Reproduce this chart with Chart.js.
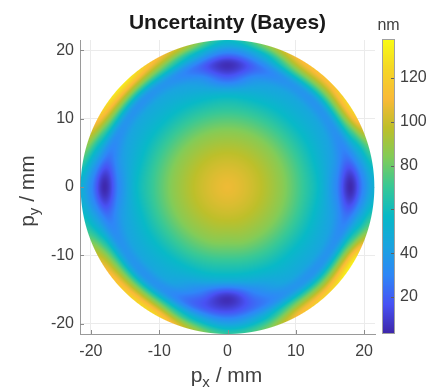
<!DOCTYPE html>
<html>
<head>
<meta charset="utf-8">
<script src="https://cdn.jsdelivr.net/npm/chart.js@4.4.0/dist/chart.umd.min.js"></script>
<style>
  html, body { margin: 0; padding: 0; background: #fff; }
</style>
</head>
<body>
<canvas id="uncertaintyChart" width="429" height="390"></canvas>
<script>
// map sampled on a polar grid: radius in mm, angle in degrees from +x, counter-clockwise
const radii = [0, 4, 8, 11, 13.5, 16, 18, 20, 21.5];
const angles = [0, 15, 30, 45, 60, 75, 90, 105, 120, 135, 150, 165,
                180, 195, 210, 225, 240, 255, 270, 285, 300, 315, 330, 345];

// uncertainty in nm, one row per radius, one column per angle
const uncertainty = [
  [108, 108, 108, 108, 108, 108, 108, 108, 108, 108, 108, 108, 108, 108, 108, 108, 108, 108, 108, 108, 108, 108, 108, 108],
  [100, 100, 100, 100, 100, 100, 100, 100, 100, 100, 100, 100, 100, 100, 100, 100, 100, 100, 100, 100, 100, 100, 100, 100],
  [ 86,  86,  86,  86,  86,  86,  86,  86,  86,  86,  86,  86,  86,  86,  86,  86,  86,  86,  85,  86,  86,  86,  86,  86],
  [ 70,  70,  70,  70,  70,  70,  70,  70,  70,  70,  70,  70,  70,  70,  70,  70,  70,  69,  68,  69,  70,  70,  70,  70],
  [ 55,  55,  56,  56,  56,  55,  54,  55,  56,  56,  56,  55,  55,  55,  56,  56,  55,  53,  50,  53,  56,  56,  56,  55],
  [ 30,  40,  45,  46,  45,  38,  20,  38,  45,  46,  45,  40,  30,  40,  45,  46,  44,  28,   8,  30,  45,  46,  45,  40],
  [  4,  27,  38,  38,  38,  25,   6,  25,  38,  38,  38,  27,   4,  27,  38,  38,  36,  22,  14,  26,  38,  38,  38,  27],
  [ 32,  50,  88,  88,  85,  52,  35,  58,  85,  95,  88,  55,  32,  48,  80,  90,  88,  60,  42,  55,  85,  90,  92,  52],
  [ 50,  74, 122, 116, 112,  85,  58,  92, 114, 132, 120,  82,  50,  64, 104, 120, 124,  95,  68,  80, 114, 124, 132,  74]
];

const apertureRadius = 21.5;
const xTicks = [-20, -10, 0, 10, 20];
const yTicks = [-20, -10, 0, 10, 20];
const colorTicks = [20, 40, 60, 80, 100, 120];
const colorMin = 3.1;
const colorMax = 137.4;

// parula, 11 stops
const parula = [
  [62, 38, 168], [72, 82, 244], [46, 135, 247], [26, 164, 224], [8, 185, 199],
  [55, 200, 151], [129, 204, 89], [189, 191, 42], [250, 186, 56], [245, 214, 38],
  [249, 251, 21]
];

function clamp(v, lo, hi) { return Math.min(hi, Math.max(lo, v)); }

function parulaColor(v) {
  const t = clamp((v - colorMin) / (colorMax - colorMin), 0, 1);
  const p = t * (parula.length - 1);
  const i = Math.min(parula.length - 2, Math.floor(p));
  const f = p - i;
  const a = parula[i], b = parula[i + 1];
  return [a[0] + (b[0] - a[0]) * f, a[1] + (b[1] - a[1]) * f, a[2] + (b[2] - a[2]) * f];
}

// catmull-rom between p1 and p2
function cubic(p0, p1, p2, p3, t) {
  return 0.5 * (2 * p1 + (p2 - p0) * t + (2 * p0 - 5 * p1 + 4 * p2 - p3) * t * t +
                (3 * p1 - p0 - 3 * p2 + p3) * t * t * t);
}

function sampleField(xv, yv) {
  const r = Math.min(Math.hypot(xv, yv), radii[radii.length - 1]);
  let th = Math.atan2(yv, xv) * 180 / Math.PI;
  if (th < 0) th += 360;
  const n = angles.length, step = 360 / n;
  const a1 = Math.floor(th / step) % n;
  const ta = th / step - Math.floor(th / step);
  const cols = [(a1 - 1 + n) % n, a1, (a1 + 1) % n, (a1 + 2) % n];

  let ri = radii.length - 2;
  for (let k = 0; k < radii.length - 1; k++) {
    if (r < radii[k + 1]) { ri = k; break; }
  }
  const tr = clamp((r - radii[ri]) / (radii[ri + 1] - radii[ri]), 0, 1);
  const rows = [Math.max(ri - 1, 0), ri, ri + 1, Math.min(ri + 2, radii.length - 1)];

  const ring = rows.map(j => cubic(...cols.map(i => uncertainty[j][i]), ta));
  return cubic(ring[0], ring[1], ring[2], ring[3], tr);
}

const points = [];
radii.forEach((r, j) => angles.forEach((a, i) => {
  points.push({
    x: r * Math.cos(a * Math.PI / 180),
    y: r * Math.sin(a * Math.PI / 180),
    v: uncertainty[j][i]
  });
}));

const heatmapPlugin = {
  id: 'heatmap',
  beforeDatasetsDraw(chart) {
    const { ctx, chartArea: a, scales: { x, y } } = chart;
    const w = Math.round(a.right - a.left), h = Math.round(a.bottom - a.top);
    const off = document.createElement('canvas');
    off.width = w; off.height = h;
    const octx = off.getContext('2d');
    const img = octx.createImageData(w, h);
    const pxPerMm = x.width / (x.max - x.min);
    for (let j = 0; j < h; j++) {
      const yv = y.getValueForPixel(a.top + j + 0.5);
      for (let i = 0; i < w; i++) {
        const xv = x.getValueForPixel(a.left + i + 0.5);
        const alpha = clamp((apertureRadius - Math.hypot(xv, yv)) * pxPerMm + 0.5, 0, 1);
        if (alpha <= 0) continue;
        const c = parulaColor(sampleField(xv, yv));
        const k = (j * w + i) * 4;
        img.data[k] = c[0]; img.data[k + 1] = c[1]; img.data[k + 2] = c[2];
        img.data[k + 3] = alpha * 255;
      }
    }
    octx.putImageData(img, 0, 0);
    ctx.drawImage(off, a.left, a.top);
  }
};

function drawSubLabel(ctx, main, sub, rest, cx, cy, rotate) {
  const big = "21px 'Liberation Sans', Arial, sans-serif";
  const small = "15px 'Liberation Sans', Arial, sans-serif";
  ctx.save();
  ctx.translate(cx, cy);
  if (rotate) ctx.rotate(-Math.PI / 2);
  ctx.font = big;
  const w1 = ctx.measureText(main).width, w3 = ctx.measureText(rest).width;
  ctx.font = small;
  const w2 = ctx.measureText(sub).width;
  let xx = -(w1 + w2 + w3) / 2;
  ctx.fillStyle = '#404040';
  ctx.textAlign = 'left';
  ctx.textBaseline = 'alphabetic';
  ctx.font = big; ctx.fillText(main, xx, 0); xx += w1;
  ctx.font = small; ctx.fillText(sub, xx, 5); xx += w2;
  ctx.font = big; ctx.fillText(rest, xx, 0);
  ctx.restore();
}

const decorPlugin = {
  id: 'decor',
  afterDraw(chart) {
    const { ctx, chartArea: a, scales: { x, y, c } } = chart;
    ctx.save();
    // inward tick marks
    ctx.strokeStyle = '#8c8c8c';
    ctx.lineWidth = 1;
    ctx.beginPath();
    xTicks.forEach(t => {
      const px = Math.round(x.getPixelForValue(t)) + 0.5;
      ctx.moveTo(px, a.bottom); ctx.lineTo(px, a.bottom - 4);
    });
    yTicks.forEach(t => {
      const py = Math.round(y.getPixelForValue(t)) + 0.5;
      ctx.moveTo(a.left, py); ctx.lineTo(a.left + 4, py);
    });
    ctx.stroke();

    // colorbar
    const barLeft = a.right + 7, barW = 13;
    for (let yy = Math.round(c.top) - 1; yy < Math.round(c.bottom); yy++) {
      const col = parulaColor(c.getValueForPixel(yy + 0.5));
      ctx.fillStyle = `rgb(${col[0] | 0},${col[1] | 0},${col[2] | 0})`;
      ctx.fillRect(barLeft, yy, barW, 1);
    }
    ctx.strokeStyle = '#a0a0a0';
    ctx.strokeRect(barLeft + 0.5, Math.round(c.top) - 0.5, barW - 1, Math.round(c.bottom - c.top));
    ctx.strokeStyle = '#606060';
    ctx.beginPath();
    colorTicks.forEach(t => {
      const py = Math.round(c.getPixelForValue(t)) + 0.5;
      ctx.moveTo(barLeft + barW - 1, py); ctx.lineTo(barLeft + barW - 4, py);
    });
    ctx.stroke();

    ctx.fillStyle = '#404040';
    ctx.font = "16px 'Liberation Sans', Arial, sans-serif";
    ctx.textAlign = 'center';
    ctx.textBaseline = 'alphabetic';
    ctx.fillText('nm', barLeft + barW / 2, 29.5);
    ctx.restore();

    drawSubLabel(ctx, 'p', 'x', ' / mm', (a.left + a.right) / 2 - 1, 382, false);
    drawSubLabel(ctx, 'p', 'y', ' / mm', 33.5, 191, true);
  }
};

Chart.defaults.font.family = "'Liberation Sans', Arial, Helvetica, sans-serif";
Chart.defaults.color = '#404040';

const ctx = document.getElementById('uncertaintyChart').getContext('2d');
new Chart(ctx, {
    type: 'scatter',
    data: {
        datasets: [{
            label: 'Uncertainty',
            data: points,
            pointRadius: 0,
            pointHoverRadius: 0
        }]
    },
    options: {
        responsive: false,
        animation: false,
        layout: { padding: 0 },
        plugins: {
            legend: { display: false },
            tooltip: { enabled: false },
            title: {
                display: true,
                text: 'Uncertainty (Bayes)',
                fullSize: false,
                color: '#1a1a1a',
                font: { size: 21, weight: 'bold' },
                padding: { top: 11, bottom: 3.8 }
            }
        },
        scales: {
            x: {
                type: 'linear',
                position: 'bottom',
                min: -21.6,
                max: 21.6,
                afterBuildTicks: s => { s.ticks = xTicks.map(v => ({ value: v })); },
                afterFit: s => { s.height = 56; },
                grid: { color: '#ebebeb', drawTicks: false },
                border: { color: '#9a9a9a' },
                ticks: { padding: 8, font: { size: 16 } }
            },
            y: {
                type: 'linear',
                position: 'left',
                min: -21.5,
                max: 21.5,
                afterBuildTicks: s => { s.ticks = yTicks.map(v => ({ value: v })); },
                afterFit: s => { s.width = 80; },
                grid: { color: '#ebebeb', drawTicks: false },
                border: { color: '#9a9a9a' },
                ticks: { padding: 6, font: { size: 16 } }
            },
            c: {
                type: 'linear',
                position: 'right',
                min: colorMin,
                max: colorMax,
                afterBuildTicks: s => { s.ticks = colorTicks.map(v => ({ value: v })); },
                afterFit: s => { s.width = 54; },
                grid: { drawOnChartArea: false, drawTicks: false },
                border: { display: false },
                ticks: { padding: 25, font: { size: 16 } }
            }
        }
    },
    plugins: [heatmapPlugin, decorPlugin]
});
</script>
</body>
</html>
